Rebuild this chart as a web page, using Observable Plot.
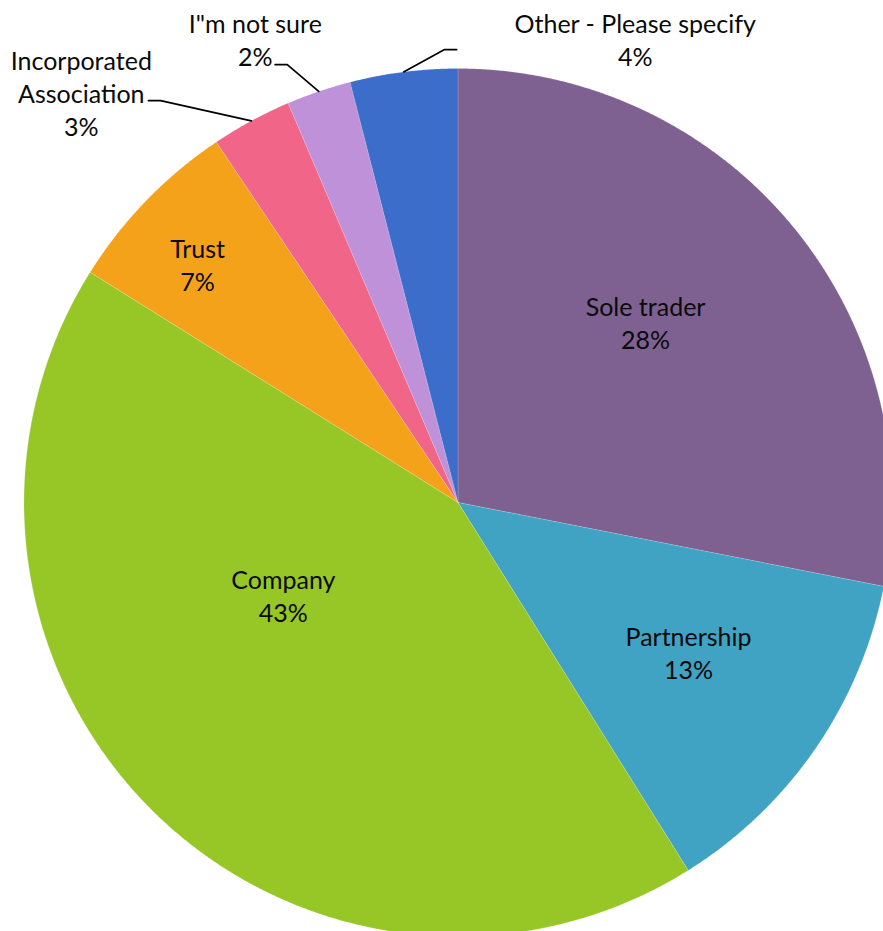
<!DOCTYPE html>
<html><head><meta charset="utf-8">
<script src="https://cdn.jsdelivr.net/npm/d3@7"></script>
<script src="https://cdn.jsdelivr.net/npm/@observablehq/plot@0.6"></script>
<style>
html,body{margin:0;padding:0;background:#fff;overflow:hidden;}
#chart svg{display:block;overflow:hidden;}
</style>
</head><body><div id="chart"></div>
<script>
// ---- data ----
const categories = ["Sole trader", "Partnership", "Company", "Trust", "Incorporated Association", 'I"m not sure', "Other - Please specify"];
const shares = [28.1, 13.0, 42.8, 6.7, 3.0, 2.4, 4.0];
const colors = ["#7E6191", "#40A3C3", "#96C726", "#F5A21B", "#F06588", "#BE91D9", "#3D6DCB"];

// ---- label layout (polar, relative to slice mid-angle; radius in pie radii) ----
const labelShift = [-4.1, -1.2, 16.7, -1.9, -14.3, -5.0, 28.2];
const labelRadius = [0.596, 0.636, 0.457, 0.81, 1.279, 1.161, 1.139];
const leaderElbow = [null, null, null, null, [323.5, 1.152], [338.7, 1.083], [358.3, 1.044]];
const leaderTail = 0.028;

const W = 883, H = 931, R = 434, cx = 457.5, cy = 502;
const rad = Math.PI / 180;
const arcs = d3.pie().sort(null).value(d => d)(shares);

const slicePts = [];
arcs.forEach((a, i) => {
  const name = categories[i];
  slicePts.push({name, x: 0, y: 0});
  const n = Math.max(2, Math.ceil((a.endAngle - a.startAngle) / (0.25 * rad)));
  for (let k = 0; k <= n; k++) {
    const t = a.startAngle + (a.endAngle - a.startAngle) * k / n;
    slicePts.push({name, x: Math.sin(t), y: Math.cos(t)});
  }
  slicePts.push({name, x: 0, y: 0});
});

const labels = arcs.map((a, i) => {
  const mid = (a.startAngle + a.endAngle) / 2 + labelShift[i] * rad;
  const r = labelRadius[i];
  const name = categories[i].replace("Incorporated ", "Incorporated\n");
  return {name, x: r * Math.sin(mid), y: r * Math.cos(mid), text: name + "\n" + Math.round(shares[i]) + "%"};
});

const leaders = [];
arcs.forEach((a, i) => {
  if (!leaderElbow[i]) return;
  const name = categories[i];
  const mid = (a.startAngle + a.endAngle) / 2;
  const ex = leaderElbow[i][1] * Math.sin(leaderElbow[i][0] * rad);
  const ey = leaderElbow[i][1] * Math.cos(leaderElbow[i][0] * rad);
  const dir = Math.sign(labels[i].x - ex) || 1;
  leaders.push({name, x: Math.sin(mid), y: Math.cos(mid)});
  leaders.push({name, x: ex, y: ey});
  leaders.push({name, x: ex + dir * leaderTail, y: ey});
});

const chart = Plot.plot({
  width: W, height: H, margin: 0,
  style: {background: "#fff", overflow: "hidden"},
  x: {domain: [-cx / R, (W - cx) / R], axis: null},
  y: {domain: [-(H - cy) / R, cy / R], axis: null},
  color: {domain: categories, range: colors},
  marks: [
    Plot.line(slicePts, {x: "x", y: "y", z: "name", fill: "name", stroke: "#ffffff", strokeWidth: 0.5, strokeOpacity: 0.3, curve: "linear"}),
    Plot.line(leaders, {x: "x", y: "y", z: "name", stroke: "#000", strokeWidth: 1.7}),
    Plot.text(labels, {x: "x", y: "y", text: "text", fontSize: 25, fontFamily: "Lato", lineHeight: 1.32, dy: -2, fill: "#0a0a0a", textAnchor: "middle"})
  ]
});
document.getElementById("chart").append(chart);
</script>
</body></html>
